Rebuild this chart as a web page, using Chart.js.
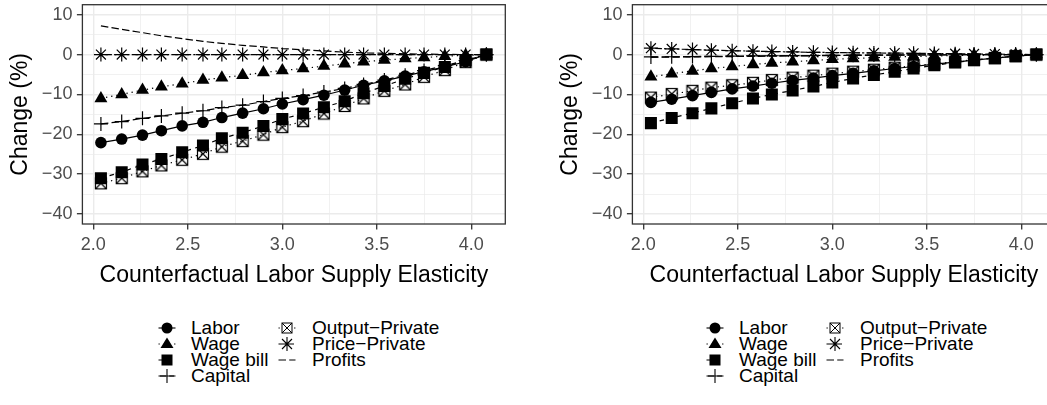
<!DOCTYPE html>
<html><head><meta charset="utf-8">
<script src="https://cdn.jsdelivr.net/npm/chart.js@4.4.0/dist/chart.umd.min.js"></script>
<style>
html,body{margin:0;padding:0;background:#fff;overflow:hidden;width:1047px;height:405px;}
#wrap{position:relative;width:1047px;height:405px;overflow:hidden;}
canvas.plot{position:absolute;top:0;}
.item{position:absolute;height:16px;line-height:16px;white-space:nowrap;font-family:"Liberation Sans",Arial,sans-serif;font-size:19px;color:#000;}
.item svg{position:absolute;left:0;top:0;}
.item span{position:absolute;top:0;}
</style></head>
<body>
<div id="wrap">
<canvas id="left" class="plot" width="530" height="300" style="left:0px"></canvas>
<canvas id="right" class="plot" width="530" height="300" style="left:550px"></canvas>
</div>
<script>
// ---- data ----
const elasticity = [2.04, 2.15, 2.26, 2.36, 2.47, 2.58, 2.68, 2.79, 2.90, 3.00, 3.11, 3.22, 3.33, 3.43, 3.54, 3.65, 3.75, 3.86, 3.97, 4.08];
const xTicks = [2.0, 2.25, 2.5, 2.75, 3.0, 3.25, 3.5, 3.75, 4.0];
const xMajor = [2.0, 2.5, 3.0, 3.5, 4.0];
const yTicks = [-40, -35, -30, -25, -20, -15, -10, -5, 0, 5, 10];
const yMajor = [-40, -30, -20, -10, 0, 10];
const seriesNames = ["Labor", "Wage", "Wage bill", "Capital", "Output\u2212Private", "Price\u2212Private", "Profits"];

// left panel
const leftLabor   = [-22.1, -21.2, -20.2, -19.1, -17.9, -17.0, -15.8, -14.7, -13.6, -12.4, -11.3, -10.2, -8.9, -7.7, -6.6, -5.4, -4.3, -3.1, -1.8, 0];
const leftWage    = [-11.0, -10.0, -8.9, -8.1, -7.3, -6.4, -5.8, -5.2, -4.5, -4.0, -3.5, -2.9, -2.3, -1.8, -1.4, -1.0, -0.75, -0.4, -0.2, 0];
const leftWageBill= [-31.0, -29.5, -27.6, -26.2, -24.5, -22.8, -21.0, -19.6, -17.9, -16.2, -14.8, -13.2, -11.7, -9.7, -7.9, -6.1, -4.6, -3.1, -1.4, 0];
const leftCapital = [-17.4, -16.8, -16.0, -15.4, -14.7, -14.1, -13.3, -12.7, -11.8, -11.0, -10.3, -9.4, -8.5, -7.5, -6.4, -5.2, -4.0, -2.8, -1.5, 0];
const leftOutput  = [-32.3, -31.0, -29.3, -27.8, -26.4, -24.9, -23.1, -21.7, -20.1, -18.2, -16.7, -14.8, -12.9, -11.0, -9.1, -7.5, -5.6, -3.9, -1.9, 0];
const leftPrice   = [0, 0, 0, 0, 0, 0, 0, 0, 0, 0, 0, 0, 0, 0, 0, 0, 0, 0, 0, 0];
const leftProfits = [7.2, 6.3, 5.5, 4.7, 4.0, 3.3, 2.8, 2.3, 1.9, 1.5, 1.2, 0.9, 0.6, 0.4, 0.3, 0.2, 0.1, 0.05, 0, 0];

// right panel
const rightLabor   = [-12.0, -11.2, -10.3, -9.5, -8.6, -7.9, -7.2, -6.5, -5.9, -5.3, -4.7, -4.1, -3.5, -3.0, -2.4, -1.9, -1.4, -0.9, -0.4, 0];
const rightWage    = [-5.6, -4.8, -4.1, -3.5, -3.0, -2.5, -2.1, -1.8, -1.5, -1.2, -1.0, -0.8, -0.6, -0.5, -0.35, -0.25, -0.15, -0.1, -0.05, 0];
const rightWageBill= [-17.2, -15.9, -14.7, -13.5, -12.2, -11.0, -10.0, -9.0, -8.0, -7.0, -6.0, -5.1, -4.3, -3.5, -2.7, -2.0, -1.4, -0.9, -0.4, 0];
const rightCapital = [-0.6, -0.55, -0.5, -0.45, -0.4, -0.35, -0.3, -0.27, -0.24, -0.2, -0.17, -0.14, -0.11, -0.09, -0.07, -0.05, -0.03, -0.02, -0.01, 0];
const rightOutput  = [-10.8, -9.9, -9.1, -8.3, -7.7, -7.1, -6.4, -5.8, -5.3, -4.8, -4.3, -3.8, -3.3, -2.8, -2.3, -1.8, -1.3, -0.9, -0.4, 0];
const rightPrice   = [1.6, 1.4, 1.25, 1.1, 0.95, 0.85, 0.75, 0.65, 0.55, 0.5, 0.45, 0.4, 0.35, 0.3, 0.25, 0.2, 0.15, 0.1, 0.05, 0];
const rightProfits = [-0.7, -0.65, -0.6, -0.55, -0.5, -0.45, -0.4, -0.35, -0.3, -0.26, -0.22, -0.18, -0.15, -0.12, -0.09, -0.06, -0.04, -0.02, -0.01, 0];

// ---- styles ----
function makeCrossSquare(){
  const c = document.createElement('canvas'); c.width = 14; c.height = 14;
  const g = c.getContext('2d'); g.strokeStyle = '#000'; g.lineWidth = 1.2;
  g.strokeRect(1.5, 1.5, 11, 11);
  g.beginPath(); g.moveTo(1.5,1.5); g.lineTo(12.5,12.5); g.moveTo(12.5,1.5); g.lineTo(1.5,12.5); g.stroke();
  return c;
}
const crossSquare = makeCrossSquare();
const styles = [
  {point:'circle', r:5.8, dash:[], filled:true},
  {point:'triangle', r:7.5, dash:[1.3,3.9], filled:true},
  {point:'rect', r:8.5, dash:[4.5,4.5], filled:true},
  {point:'cross', r:7, dash:[7.5,3.2], filled:false},
  {point:crossSquare, r:7, dash:[1.3,3.9], filled:false},
  {point:'star', r:7, dash:[2.2,2.2,6.6,2.2], filled:false},
  {point:false, r:0, dash:[7.5,3.2], filled:false}
];

const panelBorder = {
  id: 'panelBorder',
  afterDatasetsDraw(chart){
    const {ctx, chartArea:a} = chart;
    ctx.save(); ctx.strokeStyle = '#333333'; ctx.lineWidth = 1.3;
    ctx.strokeRect(a.left, a.top, a.right - a.left, a.bottom - a.top);
    ctx.restore();
  }
};

const fmt = v => (v < 0 ? '\u2212' + Math.abs(v) : String(v));

function build(id, seriesVals){
  const datasets = seriesVals.map((vals, i) => {
    const s = styles[i];
    return {
      label: seriesNames[i],
      data: elasticity.map((x, j) => ({x: x, y: vals[j]})),
      borderColor: '#000', backgroundColor: '#000',
      borderWidth: 1.2, borderDash: s.dash,
      pointStyle: s.point, pointRadius: s.r, pointHoverRadius: s.r,
      pointBorderColor: '#000', pointBackgroundColor: s.filled ? '#000' : 'rgba(0,0,0,0)',
      pointBorderWidth: s.filled ? 0 : 1.2,
      tension: 0, fill: false, order: seriesVals.length - i, clip: 10
    };
  });
  return new Chart(document.getElementById(id), {
    type: 'line',
    data: { datasets },
    plugins: [panelBorder],
    options: {
      responsive: false, animation: false, devicePixelRatio: 1,
      layout: { autoPadding: false, padding: { top: 4.7, right: 24.7, left: 0, bottom: 0 } },
      plugins: { legend: { display: false }, tooltip: { enabled: false } },
      scales: {
        x: {
          type: 'linear', min: 1.942, max: 4.18,
          afterBuildTicks: sc => { sc.ticks = xTicks.map(v => ({value: v})); },
          afterFit: sc => { sc.height = 76; sc.paddingLeft = 0; sc.paddingRight = 0; },
          border: { display: false },
          grid: {
            color: '#EBEBEB',
            lineWidth: c => xMajor.includes(c.tick && c.tick.value) ? 1.4 : 0.7,
            drawTicks: true, tickLength: 5.5,
            tickColor: c => xMajor.includes(c.tick && c.tick.value) ? '#333333' : 'rgba(0,0,0,0)',
            tickWidth: 1.3
          },
          ticks: {
            autoSkip: false, maxRotation: 0, padding: 4.5, color: '#4D4D4D',
            font: { family: 'Liberation Sans', size: 18 },
            callback: v => xMajor.includes(v) ? v.toFixed(1) : ''
          },
          title: { display: true, text: 'Counterfactual Labor Supply Elasticity', color: '#000',
                   font: { family: 'Liberation Sans', size: 23 }, padding: { top: 0, bottom: 10.5 } }
        },
        y: {
          type: 'linear', min: -42.5, max: 12.5,
          afterBuildTicks: sc => { sc.ticks = yTicks.map(v => ({value: v})); },
          afterFit: sc => { sc.width = 82.4; sc.paddingTop = 0; sc.paddingBottom = 0; },
          border: { display: false },
          grid: {
            color: '#EBEBEB',
            lineWidth: c => yMajor.includes(c.tick && c.tick.value) ? 1.4 : 0.7,
            drawTicks: true, tickLength: 5.5,
            tickColor: c => yMajor.includes(c.tick && c.tick.value) ? '#333333' : 'rgba(0,0,0,0)',
            tickWidth: 1.3
          },
          ticks: {
            autoSkip: false, padding: 4.5, color: '#4D4D4D',
            font: { family: 'Liberation Sans', size: 18 },
            callback: v => yMajor.includes(v) ? fmt(v) : ''
          },
          title: { display: true, text: 'Change (%)', color: '#000',
                   font: { family: 'Liberation Sans', size: 23 }, padding: { top: 7, bottom: 0 } }
        }
      }
    }
  });
}

build('left', [leftLabor, leftWage, leftWageBill, leftCapital, leftOutput, leftPrice, leftProfits]);
build('right', [rightLabor, rightWage, rightWageBill, rightCapital, rightOutput, rightPrice, rightProfits]);

// ---- legends (HTML) ----
function keySVG(i){
  const s = styles[i];
  const cx = 13, cy = 8;
  let out = '<svg width="26" height="16" viewBox="0 0 26 16">';
  const dash = s.dash.length ? ' stroke-dasharray="' + s.dash.join(' ') + '"' : '';
  out += '<line x1="' + (cx-8.5) + '" y1="' + cy + '" x2="' + (cx+8.5) + '" y2="' + cy + '" stroke="#000" stroke-width="1.1"' + dash + '/>';
  if (i === 0) out += '<circle cx="13" cy="8" r="5.5" fill="#000"/>';
  if (i === 1) out += '<polygon points="13,1.5 19.5,12 6.5,12" fill="#000"/>';
  if (i === 2) out += '<rect x="7.5" y="2.5" width="11" height="11" fill="#000"/>';
  if (i === 3) out += '<path d="M6 8H20M13 1V15" stroke="#000" stroke-width="1.1" fill="none"/>';
  if (i === 4) out += '<rect x="8" y="3" width="10" height="10" fill="#fff" stroke="#000" stroke-width="1"/><path d="M8 3L18 13M18 3L8 13" stroke="#000" stroke-width="1"/>';
  if (i === 5) out += '<rect x="6" y="4" width="14" height="8" fill="#fff"/><path d="M6 8H20M13 1V15M8 3L18 13M18 3L8 13" stroke="#000" stroke-width="1.1" fill="none"/>';
  out += '</svg>';
  return out;
}
function legend(offset){
  const wrap = document.getElementById('wrap');
  const rows = [328, 344, 360, 376];
  const cols = [{sym:167, txt:191}, {sym:287, txt:312}];
  seriesNames.forEach((name, i) => {
    const col = i < 4 ? cols[0] : cols[1];
    const row = i < 4 ? rows[i] : rows[i-4];
    const item = document.createElement('div');
    item.className = 'item';
    item.style.left = (offset + col.sym - 13) + 'px';
    item.style.top = (row - 8) + 'px';
    item.innerHTML = keySVG(i) + '<span style="left:' + (col.txt - col.sym + 13) + 'px">' + name + '</span>';
    wrap.appendChild(item);
  });
}
legend(0);
legend(548);
</script>
</body></html>
